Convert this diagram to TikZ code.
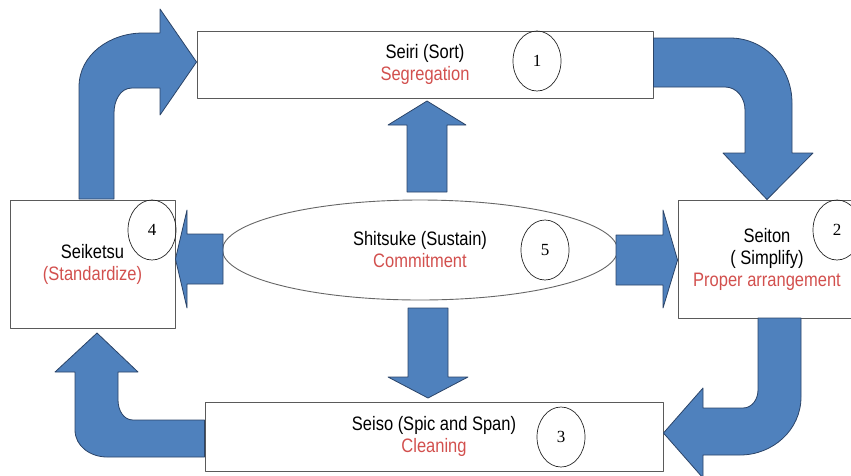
\documentclass[tikz,border=0pt]{standalone}
\usepackage{graphicx}
\usepackage{fontspec}
\setmainfont{Liberation Sans}
\newfontfamily\digitfont{Liberation Serif}
\usetikzlibrary{shapes.geometric}
\definecolor{arrowblue}{HTML}{4F81BD}
\definecolor{arrowedge}{HTML}{2B4468}
\definecolor{labelred}{HTML}{D2504E}
\definecolor{boxline}{HTML}{5A5A5A}
\newcommand{\tallline}[1]{\scalebox{1}[1.18]{#1}}
\newcommand{\redline}[1]{\tallline{\textcolor{labelred}{#1}}}

\begin{document}
\begin{tikzpicture}
    [x=1pt, y=-1pt, line join=round,
     sbox/.style={rectangle, draw=boxline, line width=0.9pt, align=center,
                  font=\fontsize{16.5}{22}\selectfont},
     num/.style={ellipse, draw=black!85, line width=0.7pt, minimum width=48pt,
                 minimum height=60pt, inner sep=0pt, font=\digitfont\fontsize{17}{17}\selectfont},
     blockarrow/.style={fill=arrowblue, draw=arrowedge, line width=0.8pt}]
  \useasboundingbox (0,0) rectangle (851,475);
  \clip (0,0) rectangle (851,475);

  % the boxes
  \node[sbox, minimum width=456pt, minimum height=67pt] (seiri) at (425,64.5)
    {\tallline{Seiri (Sort)}\\\redline{Segregation}};
  \node[sbox, minimum width=178pt, minimum height=118pt] (seiton) at (767,259)
    {\tallline{Seiton}\\\tallline{( Simplify)}\\\redline{Proper arrangement}};
  \node[sbox, minimum width=458pt, minimum height=69pt] (seiso) at (434,436.5)
    {\tallline{Seiso (Spic and Span)}\\\redline{Cleaning}};
  \node[sbox, minimum width=165pt, minimum height=128pt] (seiketsu) at (92.5,264)
    {\tallline{Seiketsu}\\\redline{(Standardize)}};
  \node[sbox, ellipse, draw=black!60, minimum width=395pt, minimum height=100pt] (shitsuke) at (420,250)
    {\tallline{Shitsuke (Sustain)}\\\redline{Commitment}};

  % numbers
  \node[num] (n1) at (537,61) {1};
  \node[num] (n2) at (837,230) {2};
  \node[num] (n3) at (561,437) {3};
  \node[num] (n4) at (152,230) {4};
  \node[num] (n5) at (545,250) {5};

  % bent arrows round the cycle
  \draw[blockarrow] (79,199) -- (79,87) to[out=90,in=180] (143,33) -- (160,33) -- (160,9)
    -- (seiri.west |- 0,62) -- (160,115) -- (160,88) -- (132,88) to[out=180,in=90] (114,113)
    -- (114,199) -- cycle;
  \draw[blockarrow] (seiri.east |- 0,38) -- (730,38) to[out=0,in=90] (792,103) -- (792,153)
    -- (813,153) -- (seiton.north) -- (723,153) -- (745,153) -- (745,110)
    to[out=90,in=0] (725,87) -- (seiri.east |- 0,87) -- cycle;
  \draw[blockarrow] (758,318) -- (758,390) to[out=-90,in=0] (743,408) -- (703,408) -- (703,388)
    -- (seiso.east |- 0,433) -- (703,478) -- (703,455) -- (740,455) to[out=0,in=-90] (801,397)
    -- (801,318) -- cycle;
  \draw[blockarrow] (seiso.west |- 0,420) -- (133,420) to[out=180,in=-90] (118,400) -- (118,372)
    -- (138,372) -- (97,333) -- (55,372) -- (75,372) -- (75,430) to[out=-90,in=180] (107,457)
    -- (seiso.west |- 0,457) -- cycle;

  % straight arrows out of Shitsuke
  \draw[blockarrow] (407,192) -- (407,125) -- (388,125) -- (427,101) -- (466,125) -- (447,125)
    -- (447,192) -- cycle;
  \draw[blockarrow] (408,308) -- (408,377) -- (388,377) -- (428,398) -- (468,377) -- (448,377)
    -- (448,308) -- cycle;
  \draw[blockarrow] (223,234) -- (187,234) -- (187,210) -- (seiketsu.east |- 0,259) -- (187,308)
    -- (187,284) -- (223,284) -- cycle;
  \draw[blockarrow] (616,235) -- (663,235) -- (663,210) -- (seiton.west |- 0,260) -- (663,308)
    -- (663,285) -- (616,285) -- cycle;
\end{tikzpicture}
\end{document}
